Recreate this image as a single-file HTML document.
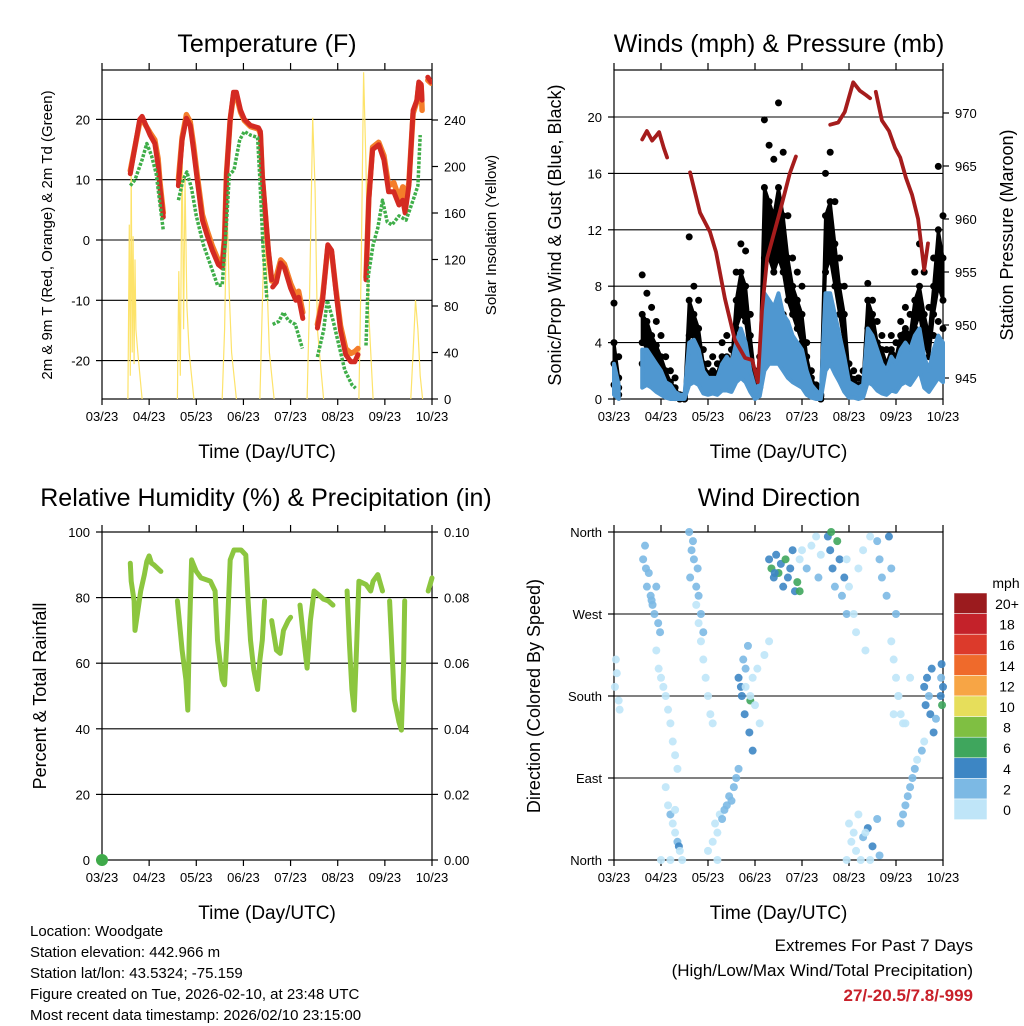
<!DOCTYPE html>
<html><head><meta charset="utf-8">
<style>
html,body{margin:0;padding:0;background:#fff;}
svg{display:block;font-family:"Liberation Sans",Arial,sans-serif;}
</style></head>
<body>
<svg id="chart" width="1024" height="1024" viewBox="0 0 1024 1024" xmlns="http://www.w3.org/2000/svg"></svg>
<script>
// ---------------- DATA ----------------
const xTickLabels = ["03/23","04/23","05/23","06/23","07/23","08/23","09/23","10/23"];
// Temperature panel: [day, value] pairs
const tempRed = [[0,18.7],null,[0.6,11],[0.8,20],[0.85,20.5],[1.02,17.4],[1.12,16],[1.19,12.4],[1.23,8.6],[1.3,3.8],null,
 [1.62,9],[1.7,16.6],[1.79,20.2],[1.87,19],[1.94,15],[2.02,10],[2.13,3.3],[2.23,0.8],[2.34,-1.7],[2.47,-4.1],[2.55,-4.6],[2.6,0],[2.64,10.8],[2.72,20],[2.79,24.5],[2.85,24.5],[2.94,21.5],[3.02,20],[3.15,19],[3.32,18.6],[3.36,18],[3.4,10.8],[3.47,4],[3.53,-1.7],[3.6,-6.6],null,
 [3.62,-7.8],[3.7,-7],[3.79,-3.8],[3.87,-4.6],[4.0,-8],[4.11,-10],[4.17,-9.5],[4.26,-13],null,
 [4.57,-14.6],[4.68,-10],[4.79,-0.8],[4.87,-1.7],[4.96,-8.3],[5.06,-15],[5.17,-19],[5.28,-20.2],[5.36,-20.2],[5.43,-19],null,
 [5.6,-6.6],[5.66,6.6],[5.74,15],[5.87,15.8],[5.98,13.3],[6.08,8],[6.19,8],[6.3,5.8],[6.38,6.6],[6.43,4.5],[6.51,9],[6.6,21.5],[6.68,23.2],[6.72,26.2],[6.77,25.8],[6.79,23.2],null,[6.91,27],[6.98,26.2]];
const tempOrange = [[0,18.5],null,[0.6,11.5],[0.8,19.5],[0.85,20],[1.02,17.8],[1.12,16.6],[1.19,13.5],[1.23,9.5],[1.3,4.5],null,
 [1.62,10],[1.7,17],[1.79,20.8],[1.87,19.6],[1.94,15.8],[2.02,10.8],[2.13,4.2],[2.23,1.6],[2.34,-1],[2.47,-3.4],[2.55,-4],[2.6,0.5],[2.64,11],[2.72,20],[2.79,24],[2.85,24],[2.94,21.2],[3.02,19.8],[3.15,18.8],[3.32,18.4],[3.36,17.6],[3.4,10.5],[3.47,3.8],[3.53,-2],[3.6,-6.8],null,
 [3.62,-6.8],[3.7,-6],[3.79,-3.3],[3.87,-4],[4.0,-7.2],[4.11,-9.2],[4.17,-8.5],[4.26,-12],null,
 [4.57,-14],[4.68,-9.5],[4.79,-1.2],[4.87,-2],[4.96,-8],[5.06,-14.2],[5.17,-18],[5.28,-18.8],[5.36,-18.5],[5.43,-18],null,
 [5.6,-6.2],[5.66,7],[5.74,15.4],[5.87,16.2],[5.98,14],[6.08,9],[6.19,9.5],[6.3,7],[6.38,8.8],[6.43,6],[6.51,9.5],[6.6,21],[6.68,23],[6.72,25.8],[6.77,25.5],[6.79,21.5],null,[6.91,26.5],[6.98,26]];
const dewGreen = [[0.6,9],[0.7,10],[0.85,13.3],[0.95,16],[1.05,14],[1.15,11],[1.22,6.6],[1.3,1.6],null,
 [1.62,6.6],[1.72,10],[1.8,11.3],[1.9,8.5],[2.0,4],[2.15,-0.8],[2.3,-4.1],[2.45,-7.5],[2.55,-7.5],[2.62,0],[2.7,10.8],[2.8,11.6],[2.92,16.6],[3.02,18],[3.15,17.4],[3.3,17],[3.35,10],[3.42,-1.7],[3.5,-10],null,
 [3.62,-14],[3.75,-13.5],[3.85,-12],[3.95,-13.3],[4.1,-14],[4.25,-18],null,
 [4.57,-19.4],[4.7,-15],[4.78,-10],[4.9,-13.3],[5.0,-16.6],[5.15,-21.6],[5.3,-24],[5.38,-24.6],null,
 [5.6,-17.5],[5.65,-5.8],[5.75,-0.8],[5.85,2],[5.95,6.6],[6.05,3],[6.15,2.5],[6.3,4],[6.45,3.3],[6.6,6.6],[6.7,9],[6.75,17.4],null,[6.95,22.7]];
const solar = [[0.55,0],[0.58,150],[0.6,20],[0.62,200],[0.64,40],[0.66,140],[0.68,30],[0.7,120],[0.72,60],[0.76,40],[0.85,0],null,
 [1.6,0],[1.63,110],[1.66,20],[1.7,223],[1.73,60],[1.76,190],[1.8,80],[1.85,40],[1.95,0],null,
 [2.55,0],[2.6,60],[2.65,171],[2.7,90],[2.75,40],[2.85,0],null,
 [3.35,0],[3.4,80],[3.45,158],[3.5,100],[3.55,40],[3.65,0],null,
 [4.35,0],[4.4,80],[4.47,242],[4.52,180],[4.57,60],[4.7,0],null,
 [5.45,0],[5.5,120],[5.55,281],[5.6,200],[5.65,80],[5.75,0],null,
 [6.55,0],[6.6,40],[6.65,85],[6.7,60],[6.75,20],[6.8,0]];
// Winds panel: sampled every 0.1 day
const gust1 = [6.8,3,null,null,null,null,8.8,7.5,6.5,5.5,4.5,3,2,1.5,0.3,0.3,11.5,8,7,3.5,2.5,3,2.5,4,4.5,3.5,9,11,10.5,6,2,3,19.8,18,17,21,17.5,13,10,9,8,4,2,1,0.3,16,17.5,14,10,8,2.5,2,1.5,2,8.2,7,5.5,4.5,3.5,4.5,4,5.5,6.5,6,9,11,9,6.5,10,16.5,13];
const gust2 = [4,1.5,null,null,null,null,6,5.5,4.5,3.8,3,2,1.2,0.8,0.2,0.2,7,6,5,2.5,1.8,2,1.8,3,3,2.5,7,9,8,4.5,1.5,2,15,14,13,15,13,10,8,7,6,3,1.5,0.8,0.2,13,14,11,8,6,1.8,1.4,1,1.4,7,6,4,3.5,2.5,3.5,3,4.5,5,4.5,7,8,6,4.5,8,12,10];
const gust3 = [2.5,0.8,null,null,null,null,4,3.8,3,2.5,2,1.2,0.8,0.4,0,0,4.5,4.5,3.5,1.8,1,1.3,1.2,2,2,1.8,5,6,5.5,3,1,1.4,10,10,9,10,9,7,6,5,4,2,1,0.5,0,9,10,8,6,4,1.2,1,0.6,0.9,5,4.5,3,2.5,1.8,2.5,2.2,3.5,4,3.5,5,6,4,3,6,8,7];
const gust4 = [1,0.3,null,null,null,null,2.5,2.2,1.8,1.5,1,0.6,0.4,0.1,0,0,3,3,2.2,1,0.5,0.8,0.7,1.3,1.3,1.2,3.5,4,3.5,2,0.6,0.8,6,6.5,6,6.5,6,4.5,4,3.5,2.5,1.2,0.6,0.2,0,6,6.5,5,4,2.5,0.8,0.6,0.3,0.5,3.5,3,2,1.5,1.2,1.8,1.5,2.5,3,2.5,3.5,4,2.5,2,4.5,5.5,5];
const windHi = [2.5,1,null,null,null,null,3.5,3.5,3,2.5,2,1.2,1,0.5,0.3,0.3,4,4.2,3.5,2,1.5,1.5,1.5,2.5,3,2.5,4,5,4,2,0.8,1,7.5,7,6.5,7.5,6,5.5,4.5,4,3.5,2,1,0.6,0.3,7.5,7.5,6,4.5,3,1.2,1,0.8,1,5,4.5,3.5,2.5,2,3,2.5,3.5,4,3.5,4.5,5,3,2,3.5,4.5,4];
const windLo = [0.3,0,null,null,null,null,0.8,1,0.8,0.5,0.3,0.1,0,0,0,0,1,1.2,1,0.4,0.3,0.4,0.3,0.6,0.6,0.5,1.2,1.5,1.2,0.5,0,0.2,2,2.5,2.5,2.5,2,1.5,1.2,1,0.8,0.3,0.1,0,0,2,2.5,1.8,1.2,0.5,0.1,0.1,0,0.1,1.2,1,0.6,0.4,0.3,0.6,0.5,1,1.2,1,1.5,2,0.8,0.5,1,1.5,1.2];
const pressure = [[0,964.4],null,[0.6,967.5],[0.7,968.3],[0.81,967.4],[0.89,967.8],[0.96,968.2],[1.06,966.7],[1.13,965.8],null,
 [1.62,964.4],[1.83,960.6],[2.04,958.8],[2.17,956.9],[2.36,952.5],[2.57,948.6],[2.79,946.9],[2.94,946.7],[3.06,944.6],[3.15,951.4],[3.26,956.3],[3.53,960.7],[3.74,964.3],[3.87,965.9],null,
 [4.6,968.9],[4.77,969.1],[4.91,970.1],[5.09,972.9],[5.23,972.1],[5.36,971.7],[5.45,971.4],null,
 [5.57,972],[5.7,969.3],[5.85,968.3],[5.98,966.7],[6.09,965.8],[6.21,963.9],[6.34,962.3],[6.47,960],[6.6,955.2],[6.68,957.7],null,[6.89,953.1]];
// Humidity panel
const rh = [[0.6,90.5],[0.62,85],[0.68,79],[0.7,70],[0.75,75],[0.82,82],[0.9,87],[0.95,91],[1.0,92.7],[1.05,90.5],[1.1,90],[1.25,88],null,
 [1.6,79],[1.7,64],[1.78,55],[1.82,45.7],[1.85,67],[1.9,91.5],[2.0,88],[2.1,86],[2.3,85],[2.4,82],[2.45,67],[2.55,55],[2.6,53.4],[2.65,67],[2.72,91.5],[2.8,94.5],[2.95,94.5],[3.05,93],[3.1,79],[3.15,67],[3.22,58],[3.3,52],[3.35,61],[3.4,67],[3.45,79],null,
 [3.6,73],[3.7,64],[3.78,63],[3.85,70],[3.95,73],[4.0,74],null,
 [4.2,77.7],[4.28,67],[4.35,58.5],[4.42,73],[4.5,82],[4.6,80.8],[4.7,79.5],[4.8,79],[4.9,77.7],null,
 [5.2,82],[5.25,65.5],[5.3,52],[5.35,45.7],[5.4,65],[5.45,85],[5.6,84],[5.7,82],[5.75,85],[5.85,87],[5.95,82],null,
 [6.1,79],[6.2,49],[6.3,42],[6.35,39.6],[6.4,61],[6.42,79],null,[6.92,82],[7.0,86]];
const precip = [[0,0]];
// Wind direction panel
const dirT = [0.02,0.06,0.1,0.04,0.12,
 0.62,0.66,0.7,0.74,0.78,0.82,0.86,0.9,0.94,0.98,0.68,0.8,
 0.9,0.95,1.0,1.05,1.1,1.15,1.2,1.25,1.3,1.35,
 1.1,1.15,1.2,1.25,1.3,1.35,1.38,1.4,1.3,1.0,1.2,1.45,
 1.6,1.65,1.7,1.75,1.8,1.85,1.9,1.68,1.78,1.62,
 1.75,1.8,1.85,1.9,1.95,2.0,2.05,2.1,
 2.0,2.1,2.15,2.2,2.25,2.3,2.35,2.4,2.45,2.5,2.55,2.6,2.65,2.2,
 2.65,2.7,2.72,2.75,2.78,2.8,2.85,2.88,2.9,2.95,
 2.8,2.9,2.95,3.0,3.05,3.1,3.2,3.3,
 3.3,3.35,3.4,3.45,3.5,3.55,3.6,3.65,3.7,3.75,3.8,3.85,3.9,3.95,3.42,
 3.95,4.0,4.1,4.2,4.3,4.35,4.4,
 4.55,4.6,4.65,4.7,4.75,4.8,4.85,4.9,4.95,4.62,
 4.95,5.0,5.1,5.15,5.2,5.3,5.35,5.45,
 5.6,5.65,5.7,5.8,5.85,5.9,6.0,
 5.9,5.95,6.0,6.05,6.1,6.2,
 5.0,5.05,5.1,5.15,5.2,5.3,5.4,5.5,5.6,5.65,5.35,5.45,4.95,5.25,
 6.1,6.15,6.2,6.25,6.3,6.35,6.4,6.45,6.55,6.6,
 5.95,6.05,6.15,6.3,
 6.6,6.63,6.66,6.7,6.73,6.76,6.8,6.85,
 6.95,6.96,6.97,6.98,7.0];
const dirDeg = [190,205,175,220,165,
 330,345,300,315,290,280,270,300,260,250,320,285,
 230,210,200,190,180,165,150,130,115,100,
 80,60,50,40,30,20,15,10,55,0,0,0,
 360,340,330,300,290,270,250,350,320,310,
 280,260,240,220,200,180,160,150,
 10,20,40,30,50,45,55,60,70,65,80,90,100,0,
 200,190,180,220,160,210,235,140,175,120,
 190,180,200,170,210,150,225,240,
 330,320,310,335,315,325,300,330,310,320,340,295,305,295,315,
 330,340,320,345,355,310,335,
 355,340,320,300,350,330,290,310,270,360,
 330,300,270,250,320,340,230,355,
 350,330,310,290,355,320,270,
 240,220,200,180,160,150,
 40,20,30,10,50,25,35,15,45,5,30,0,0,0,
 40,50,60,70,80,90,100,110,120,130,
 160,180,150,200,
 190,170,200,180,160,210,140,155,
 180,200,215,170,190];
const dirSpd = [1,1,1,0.5,1,
 2.5,3,2.5,2,3,2.5,3,2,2.5,3,3,2.2,
 1,1,1,1,1,1.5,1,1,0.8,1,
 1.5,1,2.5,1,1.5,3,4,1,1,1,1,1,
 3,2.5,3,2.5,2,2.5,2.5,2,3,3,
 1,1,1.5,1,1,1,1,1,
 1,1.5,1,1,1.5,2,2.5,2,2.5,2.5,2.5,3,3,1,
 4,4.5,4,3.5,4,3,3.5,4.5,6,4,
 1,1,1,1,1.5,1,1,1,
 4.5,6,5,4,7,5.5,4.5,6.5,5,4.5,4,4.5,6.5,7,5,
 1.5,1.5,2,1.5,1,2,1.5,
 4,4.5,4,3.5,6.5,5,3,4.5,3,6,
 1,1,1,1,1,1,1,1,
 3,3.5,3,2.5,4,3,2.5,
 1,1,1,1,1,1,
 1,1,1,1,1,2.5,4,4.5,3,3,1,1,1,1,
 2,2.5,3,2.5,3.5,2,2,1.5,2.5,1,
 1,1,1,1,
 4,4.5,4,3,4.5,4,5,2,
 4,3.5,4,6.5,5];
const speedLabels = ["20+","18","16","14","12","10","8","6","4","2","0"];
const speedColors = ["#9b1b1e","#c4222a","#dc3a2b","#ef6a2b","#f7a545","#e6de5b","#7fbf42","#3fa65d","#3d86c4","#7cb9e4","#bfe5f8"];

// ---------------- HELPERS ----------------
const NS = "http://www.w3.org/2000/svg";
const svg = document.getElementById("chart");
function el(tag, attrs, parent){
  const e = document.createElementNS(NS, tag);
  for (const k in attrs) e.setAttribute(k, attrs[k]);
  (parent||svg).appendChild(e);
  return e;
}
function txt(s, x, y, size, anchor, parent, extra){
  const t = el("text", Object.assign({x:x, y:y, "font-size":size, "text-anchor":anchor||"middle", fill:"#000"}, extra||{}), parent);
  t.textContent = s;
  return t;
}
function makeScale(d0,d1,r0,r1){ return v => r0 + (v-d0)*(r1-r0)/(d1-d0); }
function pathFromPairs(pairs, fx, fy){
  let d = "", pen = false;
  for (const p of pairs){
    if (!p){ pen=false; continue; }
    d += (pen?"L":"M") + fx(p[0]).toFixed(1) + "," + fy(p[1]).toFixed(1);
    pen = true;
  }
  return d;
}
function frame(g, x0, y0, w, h, name){
  const r = el("rect", {x:x0, y:y0, width:w, height:h, fill:"none", stroke:"#000", "stroke-width":1.2}, g);
  
  
  const xs = makeScale(0,7,x0,x0+w);
  xTickLabels.forEach((lab,i)=>{
    const x = xs(i);
    el("line",{x1:x,y1:y0,x2:x,y2:y0-7,stroke:"#000","stroke-width":1.2},g);
    el("line",{x1:x,y1:y0+h,x2:x,y2:y0+h+6,stroke:"#000","stroke-width":1.2},g);
    const t = txt(lab, x, y0+h+22, 13, "middle", g);
    
    
  });
  const xt = txt("Time (Day/UTC)", x0+w/2, y0+h+59, 19, "middle", g);
  
  
  return xs;
}
function yAxis(g, ticks, labels, fy, x0, x1, side, grid, name){
  ticks.forEach((v,i)=>{
    const y = fy(v);
    if (grid) el("line",{x1:x0,y1:y,x2:x1,y2:y,stroke:"#000","stroke-width":1.1},g);
    if (side==="left"){
      el("line",{x1:x0,y1:y,x2:x0-6,y2:y,stroke:"#000","stroke-width":1.2},g);
      const t = txt(labels[i], x0-12, y+5, 13, "end", g);
      
      
    } else {
      el("line",{x1:x1,y1:y,x2:x1+6,y2:y,stroke:"#000","stroke-width":1.2},g);
      const t = txt(labels[i], x1+12, y+5, 13, "start", g);
      
      
    }
  });
}
function vTitle(s, x, y, size, g, name){
  const t = txt(s, x, y, size, "middle", g, {transform:"rotate(-90 "+x+" "+y+")"});
  
  
}
function title(s, x, y, g, name){
  const t = txt(s, x, y, 25, "middle", g);
  
  
}
function bandSegments(hi){
  const segs=[]; let seg=[];
  hi.forEach((v,i)=>{ if(v===null){ if(seg.length) segs.push(seg); seg=[]; } else seg.push(i); });
  if(seg.length) segs.push(seg);
  return segs;
}

// ---------------- PANEL 1: TEMPERATURE ----------------
(function(){
  const g = el("g",{});
  
  
  const X0=102,Y0=70,W=330,H=329;
  const fyT = v => 240 - 6.03*v;
  const fyS = v => 399 - 1.1625*v;
  const tv=[-20,-10,0,10,20];
  yAxis(g, tv, tv.map(String), fyT, X0, X0+W, "left", true, 'temp-tick-label');
  const sv=[0,40,80,120,160,200,240];
  yAxis(g, sv, sv.map(String), fyS, X0, X0+W, "right", false, 'solar-tick-label');
  const xs = frame(g, X0, Y0, W, H, 'temperature-plot-area');
  const cp = el("clipPath",{id:"c1"},g); el("rect",{x:X0,y:Y0,width:W,height:H},cp);
  const pg = el("g",{"clip-path":"url(#c1)"},g);
  const s = el("path",{d:pathFromPairs(solar,xs,fyS),fill:"none",stroke:"#fde36a","stroke-width":1.2},pg);
  
  
  const o = el("path",{d:pathFromPairs(tempOrange,xs,fyT),fill:"none",stroke:"#f47d2a","stroke-width":5.5,"stroke-linejoin":"round","stroke-linecap":"round"},pg);
  
  
  const r = el("path",{d:pathFromPairs(tempRed,xs,fyT),fill:"none",stroke:"#d42a22","stroke-width":5,"stroke-linejoin":"round","stroke-linecap":"round"},pg);
  
  
  const gr = el("path",{d:pathFromPairs(dewGreen,xs,fyT),fill:"none",stroke:"#3fae49","stroke-width":3.5,"stroke-dasharray":"3 1.5","stroke-linejoin":"round"},pg);
  
  
  title("Temperature (F)", 267, 52, g, 'temperature-title');
  vTitle("2m & 9m T (Red, Orange) & 2m Td (Green)", 52, 235, 15, g, 'temperature-y-axis-title');
  vTitle("Solar Insolation (Yellow)", 496, 235, 15, g, 'solar-y-axis-title');
})();

// ---------------- PANEL 2: WINDS ----------------
(function(){
  const g = el("g",{});
  
  
  const X0=614,Y0=70,W=329,H=329;
  const fy = v => 399 - 14.1*v;
  const fp = v => 378 - (v-945)*10.6;
  const wv=[0,4,8,12,16,20];
  yAxis(g, wv, wv.map(String), fy, X0, X0+W, "left", true, 'wind-tick-label');
  const pv=[945,950,955,960,965,970];
  yAxis(g, pv, pv.map(String), fp, X0, X0+W, "right", false, 'pressure-tick-label');
  const xs = frame(g, X0, Y0, W, H, 'winds-plot-area');
  const cp = el("clipPath",{id:"c2"},g); el("rect",{x:X0-4,y:Y0,width:W+8,height:H+4},cp);
  const pg = el("g",{"clip-path":"url(#c2)"},g);
  // dense gust cloud (between gust2 and gust3 readings)
  bandSegments(gust2).forEach(seg=>{
    const top = seg.map(i=>xs(i/10).toFixed(1)+","+fy(gust2[i]).toFixed(1));
    const bot = seg.slice().reverse().map(i=>xs(i/10).toFixed(1)+","+fy(gust3[i]).toFixed(1));
    const p = el("polygon",{points:top.concat(bot).join(" "),fill:"#000",stroke:"#000","stroke-width":3,"stroke-linejoin":"round"},pg);
    
    
  });
  [gust1,gust2,gust3,gust4].forEach(arr=>{
    arr.forEach((v,i)=>{
      if(v===null) return;
      const c = el("circle",{cx:xs(i/10),cy:fy(v),r:3.5,fill:"#000"},pg);
      
      
    });
  });
  bandSegments(windHi).forEach(seg=>{
    const top = seg.map(i=>xs(i/10).toFixed(1)+","+fy(windHi[i]).toFixed(1));
    const bot = seg.slice().reverse().map(i=>xs(i/10).toFixed(1)+","+fy(windLo[i]).toFixed(1));
    const p = el("polygon",{points:top.concat(bot).join(" "),fill:"#4f97d0",stroke:"#4f97d0","stroke-width":4,"stroke-linejoin":"round"},pg);
    
    
  });
  const p = el("path",{d:pathFromPairs(pressure,xs,fp),fill:"none",stroke:"#a51c1c","stroke-width":3.8,"stroke-linejoin":"round","stroke-linecap":"round"},pg);
  
  
  title("Winds (mph) & Pressure (mb)", 779, 52, g, 'winds-title');
  vTitle("Sonic/Prop Wind & Gust (Blue, Black)", 561, 235, 18, g, 'wind-y-axis-title');
  vTitle("Station Pressure (Maroon)", 1013, 235, 18, g, 'pressure-y-axis-title');
})();

// ---------------- PANEL 3: HUMIDITY ----------------
(function(){
  const g = el("g",{});
  
  
  const X0=102,Y0=532,W=330,H=328;
  const fy = v => 860 - 3.28*v;
  const fr = v => 860 - 3280*v;
  const hv=[0,20,40,60,80,100];
  yAxis(g, hv, hv.map(String), fy, X0, X0+W, "left", true, 'rh-tick-label');
  const rv=[0,0.02,0.04,0.06,0.08,0.1];
  yAxis(g, rv, rv.map(v=>v.toFixed(2)), fr, X0, X0+W, "right", false, 'rain-tick-label');
  const xs = frame(g, X0, Y0, W, H, 'humidity-plot-area');
  const p = el("path",{d:pathFromPairs(rh,xs,fy),fill:"none",stroke:"#8cc63f","stroke-width":5,"stroke-linejoin":"round","stroke-linecap":"round"},g);
  
  
  precip.forEach(pt=>{
    const c = el("circle",{cx:xs(pt[0]),cy:fr(pt[1]),r:6,fill:"#3faa4a"},g);
    
    
  });
  title("Relative Humidity (%) & Precipitation (in)", 266, 506, g, 'humidity-title');
  vTitle("Percent & Total Rainfall", 46, 696, 18, g, 'humidity-y-axis-title');
})();

// ---------------- PANEL 4: WIND DIRECTION ----------------
(function(){
  const g = el("g",{});
  
  
  const X0=614,Y0=532,W=329,H=328;
  const fy = v => 860 - v*328/360;
  const dv=[0,90,180,270,360];
  yAxis(g, dv, ["North","East","South","West","North"], fy, X0, X0+W, "left", true, 'direction-tick-label');
  const xs = frame(g, X0, Y0, W, H, 'direction-plot-area');
  const colorFor = s => s>=20?speedColors[0]:speedColors[10-Math.floor(s/2)];
  dirT.forEach((t,i)=>{
    const c = el("circle",{cx:xs(t),cy:fy(dirDeg[i]),r:4,fill:colorFor(dirSpd[i]),"fill-opacity":0.9},g);
    
    
  });
  title("Wind Direction", 779, 506, g, 'direction-title');
  vTitle("Direction (Colored By Speed)", 540, 696, 18, g, 'direction-y-axis-title');
  const lg = el("g",{},g);
  
  
  const mt = txt("mph", 1006, 588, 14, "middle", lg);
  
  
  speedLabels.forEach((lab,i)=>{
    const y = 593 + i*20.6;
    const r = el("rect",{x:954,y:y,width:33,height:20.6,fill:speedColors[i],stroke:"#fff","stroke-width":0.5},lg);
    
    
    const t = txt(lab, 1007, y+16, 14, "middle", lg);
    
    
  });
})();
</script>
<div style="position:absolute;left:0;top:0;width:1024px;height:1024px;pointer-events:none;font-family:'Liberation Sans',Arial,sans-serif;">
  <div style="position:absolute;left:30px;top:921px;font-size:15px;line-height:21px;color:#000;">
    <div>Location: Woodgate</div>
    <div>Station elevation: 442.966 m</div>
    <div>Station lat/lon: 43.5324; -75.159</div>
    <div>Figure created on Tue, 2026-02-10, at 23:48 UTC</div>
    <div>Most recent data timestamp: 2026/02/10 23:15:00</div>
  </div>
  <div style="position:absolute;right:51px;top:933px;font-size:17px;line-height:25px;text-align:right;color:#000;">
    <div>Extremes For Past 7 Days</div>
    <div>(High/Low/Max Wind/Total Precipitation)</div>
    <div style="color:#c8202a;font-weight:bold;">27/-20.5/7.8/-999</div>
  </div>
</div>
</body></html>
